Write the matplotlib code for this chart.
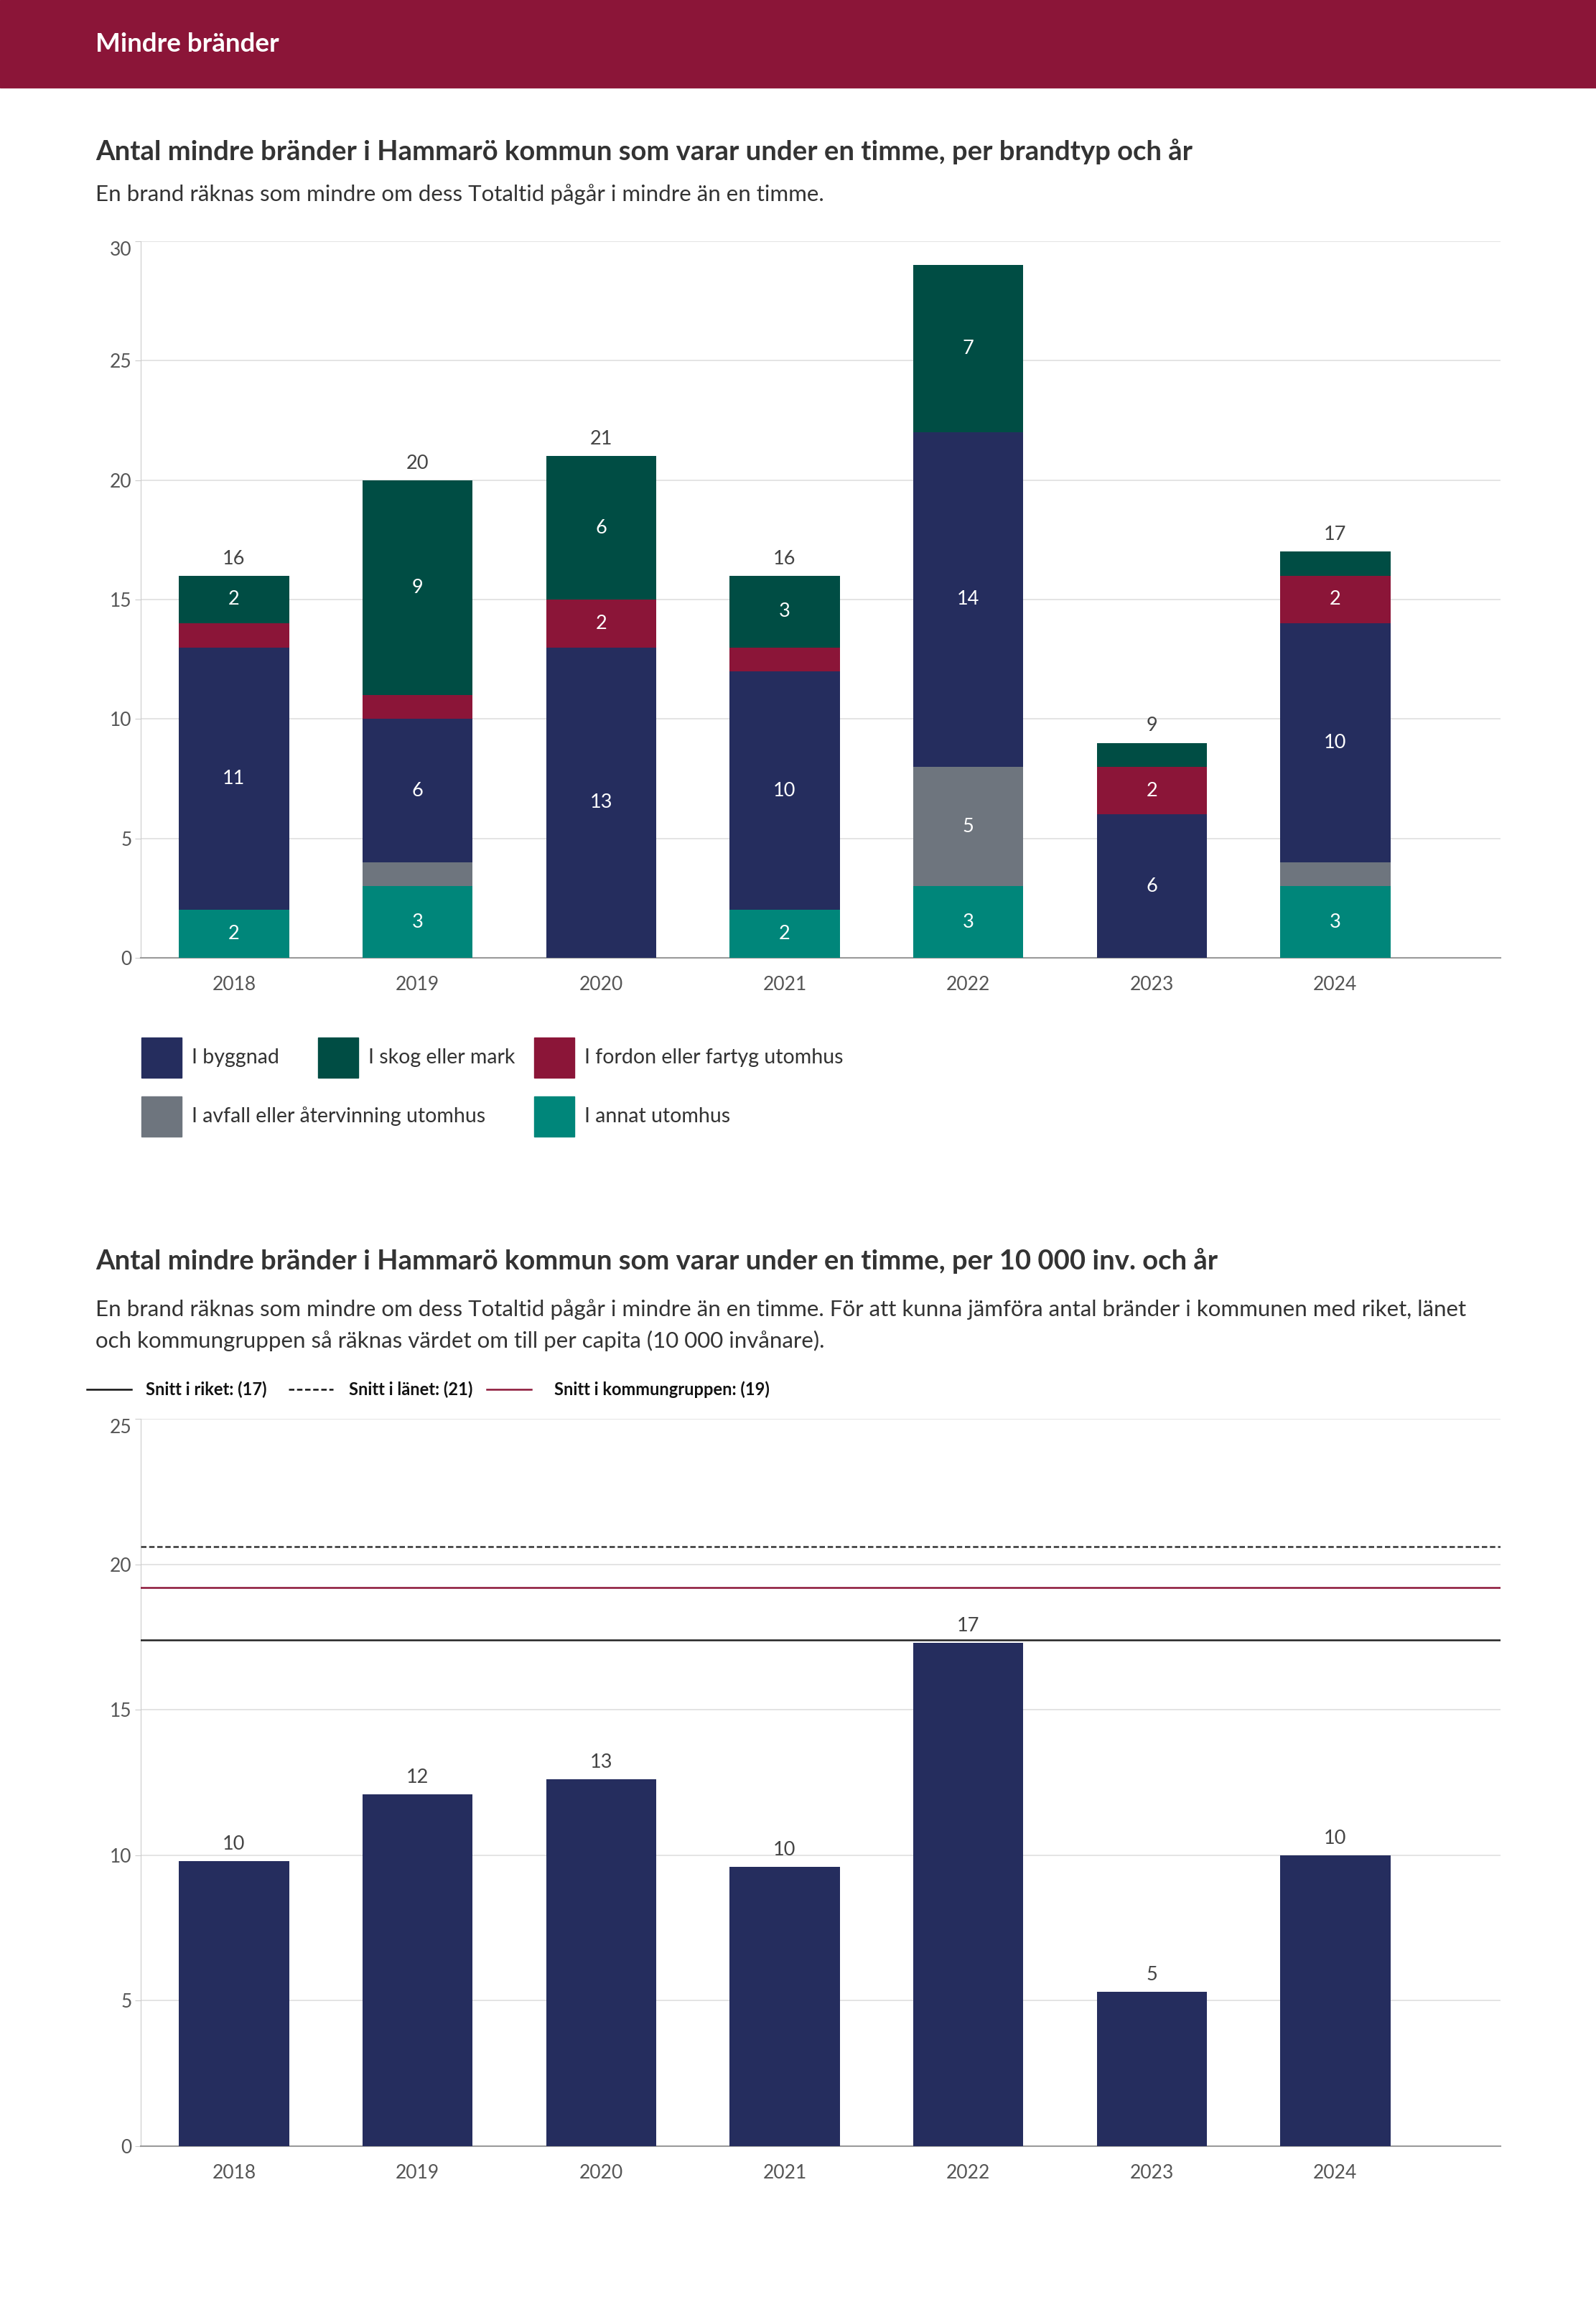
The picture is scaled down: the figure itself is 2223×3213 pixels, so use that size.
import matplotlib
matplotlib.use('Agg')
import matplotlib.pyplot as plt
from matplotlib.patches import Rectangle
from matplotlib.lines import Line2D

plt.rcParams['font.family'] = ['Lato', 'DejaVu Sans']

# data
years = ['2018', '2019', '2020', '2021', '2022', '2023', '2024']
annat = [2, 3, 0, 2, 3, 0, 3]
avfall = [0, 1, 0, 0, 5, 0, 1]
byggnad = [11, 6, 13, 10, 14, 6, 10]
fordon = [1, 1, 2, 1, 0, 2, 2]
skog = [2, 9, 6, 3, 7, 1, 1]

per_capita = [9.8, 12.1, 12.6, 9.6, 17.3, 5.3, 10.0]
snitt_riket = 17.4
snitt_lanet = 20.6
snitt_grupp = 19.2

NAVY = '#252d5e'
GREEN = '#004d44'
MAROON = '#8b1538'
GREY = '#6e757e'
TEAL = '#00867a'
TXT = '#333333'
TICK = '#555555'

W, H = 2223, 3213
fig = plt.figure(figsize=(W / 100, H / 100), dpi=100)


def fx(x):
    return x / W


def fy(y):
    return 1 - y / H


def rect(l, t, r, b):
    return [l / W, 1 - b / H, (r - l) / W, (b - t) / H]


def style_axes(ax, ymax, step):
    ax.set_ylim(0, ymax)
    ax.set_xlim(-0.508, 6.9)
    ticks = list(range(0, ymax + 1, step))
    ax.set_yticks(ticks)
    ax.set_yticklabels([str(t) for t in ticks])
    ax.get_yticklabels()[-1].set_va('top')  # top label sits under the grid line
    ax.set_xticks(range(len(years)))
    ax.set_xticklabels(years)
    ax.grid(axis='y', color='#dddddd', linewidth=1.1)
    ax.set_axisbelow(True)
    for s in ['top', 'right']:
        ax.spines[s].set_visible(False)
    ax.spines['left'].set_color('#cccccc')
    ax.spines['left'].set_linewidth(0.8)
    ax.spines['bottom'].set_color('#9a9a9a')
    ax.spines['bottom'].set_linewidth(1.5)
    ax.tick_params(axis='y', length=6, color='#cccccc', width=0.8, pad=3,
                   labelsize=19, labelcolor=TICK)
    ax.tick_params(axis='x', length=0, pad=18, labelsize=19, labelcolor=TICK)


# header band
fig.add_artist(Rectangle((0, fy(122)), 1, 122 / H, transform=fig.transFigure,
                         color=MAROON, zorder=0))
fig.text(fx(133), fy(72), 'Mindre bränder', color='white', fontsize=26.5,
         fontweight='bold', va='baseline')

# ---- chart 1 ----
fig.text(fx(133), fy(223), 'Antal mindre bränder i Hammarö kommun som varar under en timme, per brandtyp och år',
         color=TXT, fontsize=27.5, fontweight='bold', va='baseline')
fig.text(fx(133), fy(280), 'En brand räknas som mindre om dess Totaltid pågår i mindre än en timme.',
         color=TXT, fontsize=22.5, va='baseline')

ax1 = fig.add_axes(rect(196, 336, 2090, 1334))
style_axes(ax1, 30, 5)

x = range(len(years))
series = [(annat, TEAL), (avfall, GREY), (byggnad, NAVY), (fordon, MAROON), (skog, GREEN)]
bottom = [0] * len(years)
for vals, col in series:
    ax1.bar(x, vals, width=0.6, bottom=bottom, color=col, zorder=3)
    for i, v in enumerate(vals):
        if v >= 2:
            ax1.text(i, bottom[i] + v / 2, str(v), ha='center', va='center',
                     color='white', fontsize=19.5, zorder=4)
    bottom = [b + v for b, v in zip(bottom, vals)]

for i, tot in enumerate(bottom):
    if tot > 28:  # no room above the plot, label is dropped
        continue
    ax1.annotate(str(tot), (i, tot), xytext=(0, 8), textcoords='offset points',
                 ha='center', va='bottom', color='#444444', fontsize=19.5)

# legend chart 1 (manual grid)
leg_items = [('I byggnad', NAVY, 197, 1445), ('I skog eller mark', GREEN, 443, 1445),
             ('I fordon eller fartyg utomhus', MAROON, 744, 1445),
             ('I avfall eller återvinning utomhus', GREY, 197, 1527),
             ('I annat utomhus', TEAL, 744, 1527)]
for lab, col, lx, ly in leg_items:
    fig.add_artist(Rectangle((fx(lx), fy(ly + 56)), 56 / W, 56 / H,
                             transform=fig.transFigure, color=col))
    fig.text(fx(lx + 70), fy(ly + 28), lab, color=TXT, fontsize=20.5, va='center')

# ---- chart 2 ----
fig.text(fx(133), fy(1768), 'Antal mindre bränder i Hammarö kommun som varar under en timme, per 10 000 inv. och år',
         color=TXT, fontsize=27.5, fontweight='bold', va='baseline')
fig.text(fx(133), fy(1833), 'En brand räknas som mindre om dess Totaltid pågår i mindre än en timme. För att kunna jämföra antal bränder i kommunen med riket, länet',
         color=TXT, fontsize=22.5, va='baseline')
fig.text(fx(133), fy(1877), 'och kommungruppen så räknas värdet om till per capita (10 000 invånare).',
         color=TXT, fontsize=22.5, va='baseline')

ax2 = fig.add_axes(rect(196, 1976, 2090, 2989))
style_axes(ax2, 25, 5)
ax2.bar(x, per_capita, width=0.6, color=NAVY, zorder=3)
for i, v in enumerate(per_capita):
    ax2.annotate(str(round(v)), (i, v), xytext=(0, 8), textcoords='offset points',
                 ha='center', va='bottom', color='#444444', fontsize=19.5, zorder=5)

ax2.axhline(snitt_lanet, color='#333333', linewidth=1.8, linestyle=(0, (3, 1.5)), zorder=4)
ax2.axhline(snitt_grupp, color=MAROON, linewidth=1.8, zorder=4)
ax2.axhline(snitt_riket, color='#222222', linewidth=1.8, zorder=4)

# legend chart 2
lines = [('-', '#111111', 121, f'Snitt i riket: ({round(snitt_riket)})', 203),
         ((0, (3, 1.5)), '#111111', 402, f'Snitt i länet: ({round(snitt_lanet)})', 486),
         ('-', MAROON, 678, f'Snitt i kommungruppen: ({round(snitt_grupp)})', 772)]
for ls, col, lx, lab, tx in lines:
    fig.add_artist(Line2D([fx(lx), fx(lx + 62)], [fy(1935), fy(1935)],
                          transform=fig.transFigure, color=col, linewidth=1.8, linestyle=ls))
    fig.text(fx(tx), fy(1935), lab, color='#111111', fontsize=17, fontweight='bold', va='center')

fig.savefig('out.png', dpi=100)
